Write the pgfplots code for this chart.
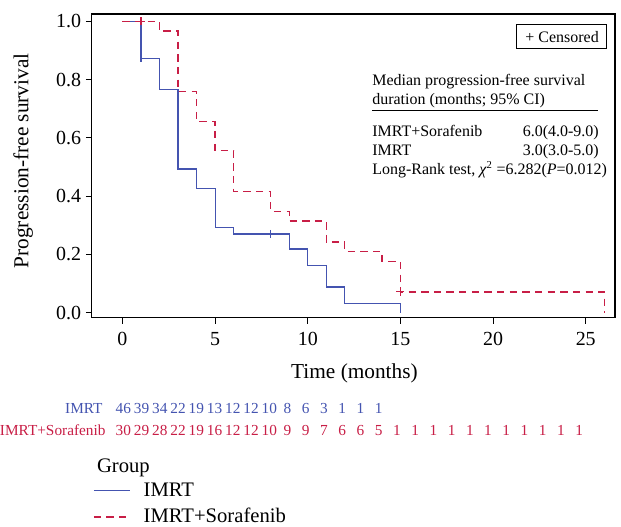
\documentclass[border=0pt]{standalone}
\usepackage{pgfplots}
\usepackage{pgfplotstable}
\pgfplotsset{compat=1.18}
\usepackage{fontspec}
\setmainfont{Liberation Serif}

\definecolor{imrt}{RGB}{68,84,176}
\definecolor{sora}{RGB}{200,30,70}

% numbers at risk, by month
\pgfplotstableread{
m n
0 46
1 39
2 34
3 22
4 19
5 13
6 12
7 12
8 10
9 8
10 6
11 3
12 1
13 1
14 1
}\riskimrt
\pgfplotstableread{
m n
0 30
1 29
2 28
3 22
4 19
5 16
6 12
7 12
8 10
9 9
10 9
11 7
12 6
13 6
14 5
15 1
16 1
17 1
18 1
19 1
20 1
21 1
22 1
23 1
24 1
25 1
}\risksora

\begin{document}
\begin{tikzpicture}
\begin{scope}[x=0.75pt,y=-0.75pt]
  \useasboundingbox (0,0) rectangle (621,527);
\end{scope}
\begin{axis}[
    at={(68.25pt,-238.5pt)}, anchor=south west,
    scale only axis, width=393pt, height=228pt,
    xmin=-1.654, xmax=26.58,
    ymin=-0.0172, ymax=1.0257,
    xtick={0,5,10,15,20,25},
    ytick={0,0.2,0.4,0.6,0.8,1.0},
    yticklabel style={/pgf/number format/fixed,
      /pgf/number format/fixed zerofill, /pgf/number format/precision=1},
    xticklabel style={yshift=-3pt},
    /pgf/number format/assume math mode=true,
    tick label style={font=\fontsize{15}{18}\selectfont},
    label style={font=\fontsize{16}{19}\selectfont},
    xlabel={Time (months)},
    ylabel={Progression-free survival},
    xlabel style={at={(axis description cs:0.502,-0.184)}, anchor=center},
    ylabel style={at={(axis description cs:-0.131,0.516)}, anchor=center},
    xtick pos=bottom, ytick pos=left,
    tick align=outside,
    major tick length=4.5pt,
    axis line style={line width=0.8pt, black},
    tick style={line width=0.8pt, black},
    clip=false,
  ]
  \addplot[const plot, color=imrt, line width=0.9pt] table {
    t s
    0 1.000
    1 0.874
    2 0.765
    3 0.493
    4 0.425
    5 0.293
    6 0.270
    9 0.218
    10 0.162
    11 0.088
    12 0.030
    15 0.000
  };
  \addplot[const plot, color=sora, line width=1pt, dash pattern=on 5.5pt off 4pt] table {
    t s
    0 1.000
    2 0.967
    3 0.760
    4 0.656
    5 0.556
    6 0.416
    8 0.347
    9 0.314
    11 0.242
    12 0.210
    14 0.175
    15 0.071
    26 0.000
  };
  % censored observations
  \addplot[only marks, mark=|, mark size=3pt, color=imrt,
    mark options={line width=0.8pt, solid}] coordinates {(1,0.874) (8,0.270)};
  \addplot[only marks, mark=+, mark size=3pt, color=sora,
    mark options={line width=0.8pt, solid}] coordinates {(1,1.000) (15,0.071)};
  % numbers at risk
  \addplot[draw=none, mark=none, nodes near coords, point meta=explicit symbolic,
    every node near coord/.append style={anchor=base, inner sep=0pt, text=imrt,
      font=\fontsize{11.5}{13}\selectfont}]
    table[x expr=0.05+0.984*\thisrow{m}, y expr=-0.3465, meta=n] {\riskimrt};
  \addplot[draw=none, mark=none, nodes near coords, point meta=explicit symbolic,
    every node near coord/.append style={anchor=base, inner sep=0pt, text=sora,
      font=\fontsize{11.5}{13}\selectfont}]
    table[x expr=0.05+0.984*\thisrow{m}, y expr=-0.422, meta=n] {\risksora};
\end{axis}
\begin{scope}[x=0.75pt,y=-0.75pt]
  % censored key
  \draw[line width=0.8pt] (516,24.3) rectangle (606.7,49);
  \node[anchor=center, inner sep=0pt, font=\fontsize{12}{14}\selectfont] at (562,37) {+ Censored};
  % median summary
  \begin{scope}[every node/.style={inner sep=0pt, font=\fontsize{12}{14}\selectfont}]
    \node[anchor=base west] at (371.7,86) {Median progression-free survival};
    \node[anchor=base west] at (371.7,105) {duration (months; 95\% CI)};
    \draw[line width=0.8pt] (371.7,111) -- (597.7,111);
    \node[anchor=base west] at (371.7,136.5) {IMRT+Sorafenib};
    \node[anchor=base east] at (599,136.5) {6.0(4.0-9.0)};
    \node[anchor=base west] at (371.7,156) {IMRT};
    \node[anchor=base east] at (599,156) {3.0(3.0-5.0)};
    \node[anchor=base west] at (371.7,175) {Long-Rank test, \textit{χ}\textsuperscript{2} =6.282(\textit{P}=0.012)};
  \end{scope}
  % risk table row labels
  \node[anchor=base east, inner sep=0pt, text=imrt, font=\fontsize{11.5}{13}\selectfont] at (102,414) {IMRT};
  \node[anchor=base east, inner sep=0pt, text=sora, font=\fontsize{11.5}{13}\selectfont] at (105,436) {IMRT+Sorafenib};
  % legend
  \begin{scope}[every node/.style={inner sep=0pt, anchor=base west, font=\fontsize{15.5}{18}\selectfont}]
    \node at (96,473) {Group};
    \draw[imrt, line width=0.9pt] (93,491) -- (129,491);
    \node at (142.7,497) {IMRT};
    \draw[sora, line width=1pt, dash pattern=on 5.5pt off 4pt] (93,517.7) -- (129,517.7);
    \node at (142.7,523.3) {IMRT+Sorafenib};
  \end{scope}
\end{scope}
\end{tikzpicture}
\end{document}
